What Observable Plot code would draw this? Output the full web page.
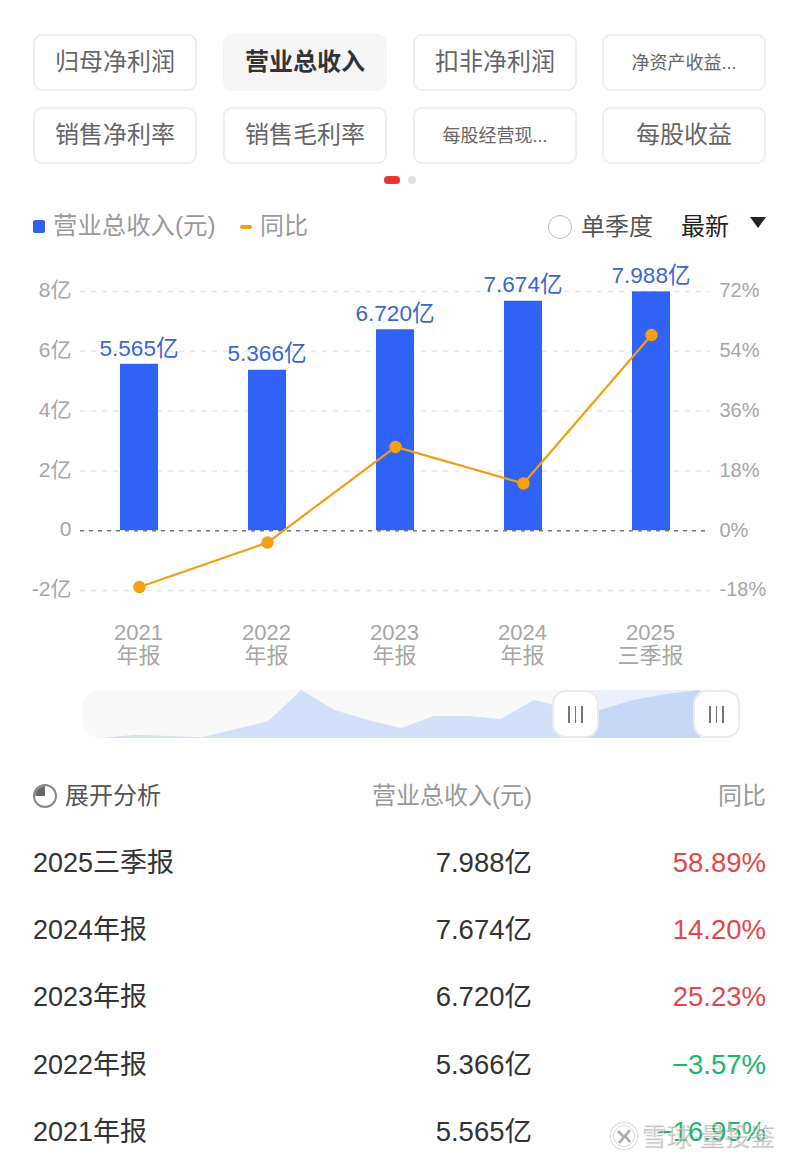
<!DOCTYPE html>
<html><head><meta charset="utf-8">
<script src="https://cdn.jsdelivr.net/npm/d3@7"></script>
<script src="https://cdn.jsdelivr.net/npm/@observablehq/plot@0.6"></script>
<style>
html,body{margin:0;padding:0;background:#fff;width:800px;height:1162px;overflow:hidden}
body{position:relative;font-family:"Liberation Sans","Noto Sans CJK SC",sans-serif}
.a{position:absolute;white-space:nowrap;line-height:1}
.btn{position:absolute;box-sizing:border-box;width:164px;height:57px;border:2px solid #eeeeee;border-radius:9px;display:flex;align-items:center;justify-content:center;color:#666;font-size:24px;padding-bottom:6px}
.btn.on{background:#f5f5f5;border-color:#f5f5f5;color:#333;font-weight:700}
.btn.sm{font-size:18px;padding-bottom:4px}
.handle{position:absolute;box-sizing:border-box;top:690px;width:47px;height:48px;background:#fff;border:2px solid #eaeaea;border-radius:14px;display:flex;align-items:center;justify-content:center;gap:5px}
.handle i{display:block;width:1.5px;height:17px;background:#777}
svg{position:absolute;overflow:visible}
</style></head><body>
<script>
const tabs = ["归母净利润","营业总收入","扣非净利润","净资产收益...","销售净利率","销售毛利率","每股经营现...","每股收益"];
const periods = ["2021\n年报","2022\n年报","2023\n年报","2024\n年报","2025\n三季报"];
const revenue = [5.565,5.366,6.720,7.674,7.988];
const yoy = [-16.95,-3.57,25.23,14.20,58.89];
const leftTicks = [-2,0,2,4,6,8];
const rightTicks = [-18,0,18,36,54,72];
const rowNames = ["2025三季报","2024年报","2023年报","2022年报","2021年报"];
const rowRevenue = ["7.988亿","7.674亿","6.720亿","5.366亿","5.565亿"];
const rowYoy = ["58.89%","14.20%","25.23%","−3.57%","−16.95%"];
const overview = [0,3.3,2,0.7,8.7,16.7,48,28,18,10,22,22,19,38,30,28,38,44,48];

function add(cls,txt,css){const d=document.createElement("div");d.className=cls;d.textContent=txt;Object.assign(d.style,css||{});document.body.appendChild(d);return d;}

// tabs
const tabX=[33,223,413,602];
tabs.forEach((t,i)=>add("btn"+(i===1?" on":"")+(t.endsWith("...")?" sm":""),t,{left:tabX[i%4]+"px",top:(i<4?34:107)+"px"}));
add("a","",{left:"384px",top:"176px",width:"16px",height:"8px",background:"#ee3333",borderRadius:"4px"});
add("a","",{left:"408px",top:"176px",width:"8px",height:"8px",background:"#e2e2e2",borderRadius:"4px"});

// legend
add("a","",{left:"33px",top:"220px",width:"12px",height:"13px",background:"#2f62f0",borderRadius:"2px"});
add("a","营业总收入(元)",{left:"53px",top:"214px",fontSize:"24.4px",color:"#999"});
add("a","",{left:"240px",top:"225px",width:"12px",height:"4px",background:"#f0a014",borderRadius:"2px"});
add("a","同比",{left:"260px",top:"214px",fontSize:"24px",color:"#999"});
add("a","",{left:"548px",top:"215px",width:"24px",height:"24px",border:"1.5px solid #bbb",borderRadius:"50%",boxSizing:"border-box"});
add("a","单季度",{left:"581px",top:"215px",fontSize:"24px",color:"#555"});
add("a","最新",{left:"681px",top:"215px",fontSize:"24px",color:"#222"});
add("a","",{left:"750px",top:"217px",width:"0",height:"0",borderLeft:"8px solid transparent",borderRight:"8px solid transparent",borderTop:"11px solid #222"});

// main chart
const rows = periods.map((p,i)=>({p,rev:revenue[i],yoy:yoy[i]}));
const grey = "#a6a6a6";
const main = Plot.plot({
  width:800,height:410,marginTop:0,marginBottom:0,marginLeft:80,marginRight:90,
  style:{background:"transparent",fontFamily:'"Liberation Sans","Noto Sans CJK SC",sans-serif',fontSize:"21px",overflow:"visible"},
  x:{domain:periods,range:[75,715],paddingInner:0.703,paddingOuter:0.3515,label:null,axis:null},
  y:{domain:[-2,8],range:[320,21],label:null,axis:null},
  marks:[
    Plot.ruleY(leftTicks.filter(d=>d!==0),{stroke:"#e8e8e8",strokeWidth:1.5,strokeDasharray:"5,6"}),
    Plot.barY(rows,{x:"p",y:"rev",fill:"#2f62f5"}),
    Plot.ruleY([0],{stroke:"#777",strokeWidth:1.5,strokeDasharray:"4,5"}),
    Plot.line(rows,{x:"p",y:d=>d.yoy/9,stroke:"#ee9f14",strokeWidth:2.2}),
    Plot.dot(rows,{x:"p",y:d=>d.yoy/9,r:5.5,fill:"#f5a00f",stroke:"#f5a00f"}),
    Plot.text(rows,{x:"p",y:"rev",text:d=>d.rev.toFixed(3)+"亿",dy:-16,dx:-0.5,fill:"#3a66d2",fontSize:22.6}),
    Plot.text(leftTicks,{frameAnchor:"left",dx:-9,dy:-1,y:d=>d,text:d=>d===0?"0":d+"亿",textAnchor:"end",fill:grey,fontSize:21}),
    Plot.text(rightTicks,{frameAnchor:"right",dx:9,dy:-0.5,y:d=>d/9,text:d=>d+"%",textAnchor:"start",fill:grey,fontSize:20}),
    Plot.text(rows,{x:"p",frameAnchor:"top",dx:-1,dy:353,text:"p",lineHeight:1.06,fill:grey,fontSize:22,lineAnchor:"top"})
  ]
});
main.style.left="0";main.style.top="270px";
document.body.appendChild(main);

// overview slider
const ovRows = overview.map((v,i)=>({i,v}));
const mini = Plot.plot({
  width:800,height:60,margin:0,
  style:{background:"transparent",overflow:"visible"},
  x:{domain:[0,18],range:[102,700],axis:null},
  y:{domain:[0,48],range:[48,0],axis:null},
  marks:[
    Plot.rect([0],{x1:()=>-0.6,x2:()=>19.2,y1:()=>0,y2:()=>48,fill:"#f9f9f9",r:16}),
    Plot.rect([0],{x1:()=>14.3,x2:()=>18.4,y1:()=>0,y2:()=>48,fill:"#eaf0fc"}),
    Plot.areaY(ovRows,{x:"i",y:"v",fill:"#d2e0f9"}),
    Plot.areaY(ovRows.filter(d=>d.i>=14),{x:"i",y:"v",fill:"#c7d8f7"})
  ]
});
mini.style.left="0";mini.style.top="690px";
document.body.appendChild(mini);
[552,693].forEach(x=>{const h=add("handle","",{left:x+"px"});for(let k=0;k<3;k++)h.appendChild(document.createElement("i"));});

// table header
add("a","",{left:"33px",top:"784px",width:"24px",height:"24px",border:"2px solid #888",borderRadius:"50%",boxSizing:"border-box",background:"conic-gradient(#fff 0 270deg,#666 270deg 360deg)",backgroundClip:"padding-box"});
add("a","展开分析",{left:"65px",top:"784px",fontSize:"24px",color:"#555"});
add("a","营业总收入(元)",{right:"268px",top:"784px",fontSize:"24px",color:"#999"});
add("a","同比",{right:"34px",top:"784px",fontSize:"24px",color:"#999"});

const rowY=[862,929,996,1064,1131];
rowNames.forEach((n,i)=>{
  add("a",n,{left:"33px",top:(rowY[i]-12)+"px",fontSize:"27px",color:"#333"});
  add("a",rowRevenue[i],{right:"268px",top:(rowY[i]-13)+"px",fontSize:"27.5px",color:"#333"});
  add("a",rowYoy[i],{right:"34px",top:(rowY[i]-13)+"px",fontSize:"27.5px",color:yoy[yoy.length-1-i]<0?"#22b46c":"#e2474a"});
});
// watermark
add("a","雪球·量投鉴",{left:"641px",top:"1124px",fontSize:"25px",color:"rgba(255,255,255,.45)",textShadow:"1px 1px 1px rgba(120,120,120,.55)"});
const logo = add("a","",{left:"611px",top:"1123px",width:"26px",height:"26px",borderRadius:"50%",border:"2.5px solid #fff",boxSizing:"border-box",boxShadow:"0 0 2px #888,inset 0 0 2px #888"});
const lg = document.createElementNS("http://www.w3.org/2000/svg","svg");
lg.setAttribute("width","26");lg.setAttribute("height","26");lg.style.left="-2.5px";lg.style.top="-2.5px";
lg.innerHTML='<path d="M7 8 L13 14 L8 20 M19 7 L14 13 L19 19" fill="none" stroke="#aaa" stroke-width="2.5"/>';
logo.appendChild(lg);
</script>
</body></html>
